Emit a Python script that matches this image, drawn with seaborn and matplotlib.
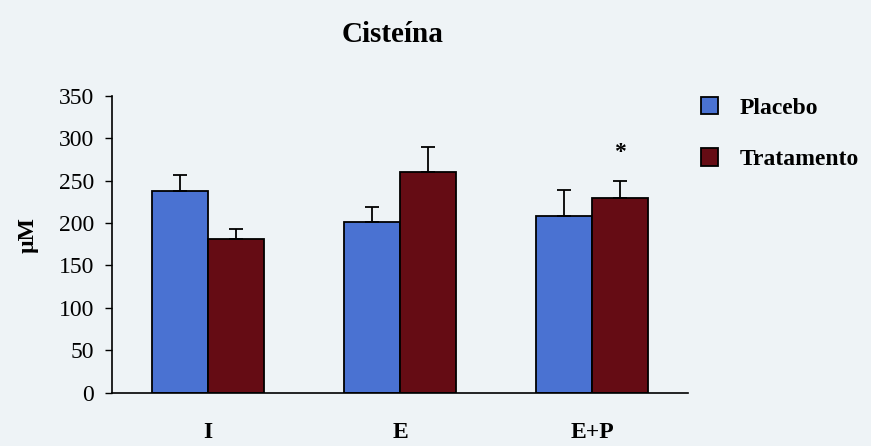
import numpy as np
import pandas as pd
import matplotlib
matplotlib.use("Agg")
import matplotlib.pyplot as plt
import seaborn as sns

categories = ["I", "E", "E+P"]
groups = ["Placebo", "Tratamento"]
placebo = [238, 201, 208]
placebo_err = [19, 18, 31]
tratamento = [181, 260, 229]
tratamento_err = [12, 29, 21]
y_ticks = [0, 50, 100, 150, 200, 250, 300, 350]

df = pd.DataFrame({
    "cat": categories * 2,
    "grupo": ["Placebo"] * 3 + ["Tratamento"] * 3,
    "val": placebo + tratamento,
})
errs = placebo_err + tratamento_err

sns.set_theme(style="white")
plt.rcParams["font.family"] = ["Liberation Serif", "DejaVu Serif"]
plt.rcParams["text.color"] = "black"
plt.rcParams["axes.labelcolor"] = "black"
plt.rcParams["xtick.color"] = "black"
plt.rcParams["ytick.color"] = "black"

bg = "#eef3f6"
fig = plt.figure(figsize=(8.71, 4.46), dpi=100, facecolor=bg)
ax = fig.add_axes([0.1286, 0.1195, 0.6613, 0.666])
ax.set_facecolor(bg)

palette = {"Placebo": "#4a72d2", "Tratamento": "#650c14"}
sns.barplot(data=df, x="cat", y="val", hue="grupo", order=categories,
            hue_order=groups, palette=palette, width=0.58, gap=0,
            errorbar=None, edgecolor="black", linewidth=1.3, saturation=1,
            ax=ax, legend=True)

# error bars (upper only) from bar geometry
bars = [p for p in ax.patches if p.get_height() > 0][:6]
for p, e in zip(bars, errs):
    xc = p.get_x() + p.get_width() / 2
    h = p.get_height()
    ax.errorbar(xc, h, yerr=[[0], [e]], fmt="none", ecolor="black",
                elinewidth=1.3, capsize=5, capthick=1.3, zorder=5)

# asterisk above E+P Tratamento
pe = bars[5]
ax.text(pe.get_x() + pe.get_width() / 2, 283, "*", ha="center", va="center",
        fontsize=17, fontweight="bold", color="black")

ax.set_xlim(-0.5, 2.5)
ax.set_ylim(0, 350)
ax.set_yticks(y_ticks)
ax.set_yticklabels([str(t) for t in y_ticks], fontsize=17)
ax.set_xticks(range(3))
ax.set_xticklabels(categories, fontsize=17, fontweight="bold")
ax.set_xticks([0.5, 1.5, 2.5], minor=True)
ax.tick_params(axis="x", which="major", length=0, pad=21, colors="black")
ax.tick_params(axis="x", which="minor", length=4, width=1, direction="out", colors="black")
ax.tick_params(axis="y", length=5, width=1, direction="out", pad=8, colors="black", left=True)

for s in ["top", "right"]:
    ax.spines[s].set_visible(False)
for s in ["left", "bottom"]:
    ax.spines[s].set_color("black")
    ax.spines[s].set_linewidth(1.2)

ax.set_xlabel("")
ax.set_ylabel("µM", fontsize=17, fontweight="bold", color="black")
ax.yaxis.set_label_coords(-0.128, 0.53)

fig.text(0.451, 0.922, "Cisteína", ha="center", va="center",
         fontsize=21, fontweight="bold", color="black")

handles, labels = ax.get_legend_handles_labels()
ax.legend_.remove()
leg = fig.legend(handles, labels, loc="upper left", bbox_to_anchor=(0.78, 0.83),
                 frameon=False, prop={"size": 17, "weight": "bold"},
                 handlelength=0.75, handleheight=0.75, handletextpad=0.9,
                 labelspacing=1.25)
for t in leg.get_texts():
    t.set_color("black")

fig.savefig("out.png", dpi=100, facecolor=bg)
